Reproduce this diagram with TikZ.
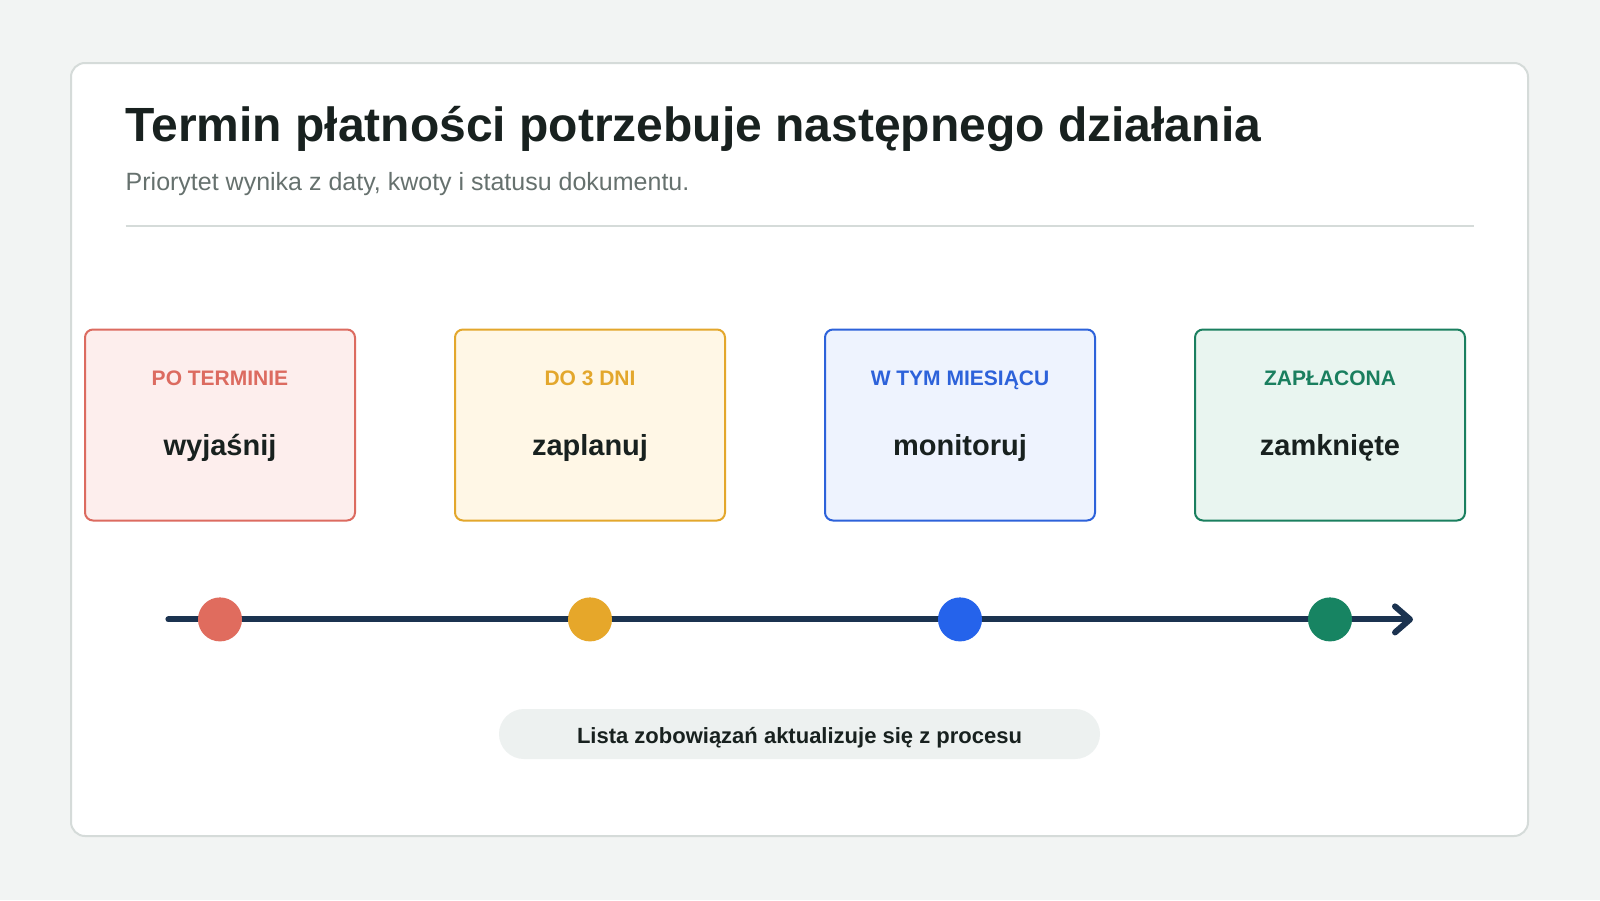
\documentclass[tikz,border=0pt]{standalone}
\usepackage{fontspec}
\setmainfont{Liberation Sans}
\usepackage{tikz}
\usetikzlibrary{positioning,calc,arrows.meta}

\definecolor{pageBg}{HTML}{F2F4F3}
\definecolor{cardLine}{HTML}{D5DBD9}
\definecolor{inkDark}{HTML}{18211F}
\definecolor{inkGrey}{HTML}{66716E}
\definecolor{navy}{HTML}{1B3350}
\definecolor{pillFill}{HTML}{EDF1F0}
\definecolor{redLine}{HTML}{DC6B60}
\definecolor{redFill}{HTML}{FDEEED}
\definecolor{redDot}{HTML}{E06C5E}
\definecolor{amberLine}{HTML}{E3A72C}
\definecolor{amberFill}{HTML}{FFF7E6}
\definecolor{amberDot}{HTML}{E6A72A}
\definecolor{blueLine}{HTML}{2D62DA}
\definecolor{blueFill}{HTML}{EEF3FE}
\definecolor{blueDot}{HTML}{2563EB}
\definecolor{greenLine}{HTML}{1A7F5F}
\definecolor{greenFill}{HTML}{E9F5F0}
\definecolor{greenDot}{HTML}{178462}

\tikzset{
    stagebox/.style={draw, line width=2pt, rounded corners=8pt,
        minimum width=270pt, minimum height=191pt, inner sep=0pt},
    stagetag/.style={font=\bfseries\fontsize{21}{25}\selectfont, anchor=base, inner sep=0pt},
    stageword/.style={font=\bfseries\fontsize{29}{35}\selectfont, text=inkDark, anchor=base, inner sep=0pt},
    stagedot/.style={circle, minimum size=44pt, inner sep=0pt},
}

\begin{document}
\begin{tikzpicture}[x=1pt, y=-1pt]
    % Page and card
    \fill [pageBg] (0, 0) rectangle (1600, 900);
    \useasboundingbox (0, 0) rectangle (1600, 900);
    \draw [cardLine, line width=2pt, fill=white, rounded corners=14pt] (71, 63) rectangle (1528, 836);

    % Heading
    \node [anchor=base west, inner sep=0pt, text=inkDark, font=\bfseries\fontsize{48}{58}\selectfont] (title) at (125.5, 141.5) {Termin płatności potrzebuje następnego działania};
    \node [anchor=base west, inner sep=0pt, text=inkGrey, font=\fontsize{25}{30}\selectfont] (subtitle) at (125.5, 190.8) {Priorytet wynika z daty, kwoty i statusu dokumentu.};
    \draw [cardLine, line width=2pt] (125.5, 225.5) -- (1473.5, 225.5);

    % Overdue
    \node [stagebox, draw=redLine, fill=redFill] (overdue) at (220, 425) {};
    \node [stagetag, text=redLine] (overdueTag) at (220, 385.7) {PO TERMINIE};
    \node [stageword] (overdueWord) at (220, 455) {wyjaśnij};

    % Within 3 days
    \node [stagebox, draw=amberLine, fill=amberFill] (soon) at (590, 425) {};
    \node [stagetag, text=amberLine] (soonTag) at (590, 385.7) {DO 3 DNI};
    \node [stageword] (soonWord) at (590, 455) {zaplanuj};

    % This month
    \node [stagebox, draw=blueLine, fill=blueFill] (month) at (960, 425) {};
    \node [stagetag, text=blueLine] (monthTag) at (960, 385.7) {W TYM MIESIĄCU};
    \node [stageword] (monthWord) at (960, 455) {monitoruj};

    % Paid
    \node [stagebox, draw=greenLine, fill=greenFill] (paid) at (1330, 425) {};
    \node [stagetag, text=greenLine] (paidTag) at (1330, 385.7) {ZAPŁACONA};
    \node [stageword] (paidWord) at (1330, 455) {zamknięte};

    % Timeline
    \coordinate (lineStart) at (168.4, 619.4);
    \coordinate (lineEnd) at (1413, 619.4);
    \draw [navy, line width=6pt, line cap=round, -{Straight Barb[length=15pt, width=26pt, round]}] (lineStart) -- (lineEnd);
    \node [stagedot, fill=redDot] (overdueDot) at (220, 619.4) {};
    \node [stagedot, fill=amberDot] (soonDot) at (590, 619.4) {};
    \node [stagedot, fill=blueDot] (monthDot) at (960, 619.4) {};
    \node [stagedot, fill=greenDot] (paidDot) at (1330, 619.4) {};

    % Footer note
    \node [fill=pillFill, rounded corners=25pt, minimum width=601pt, minimum height=50pt, inner sep=0pt] (note) at (799.5, 734) {};
    \node [anchor=base, inner sep=0pt, text=inkDark, font=\bfseries\fontsize{22}{26}\selectfont] (noteText) at (799.5, 743) {Lista zobowiązań aktualizuje się z procesu};
\end{tikzpicture}
\end{document}
